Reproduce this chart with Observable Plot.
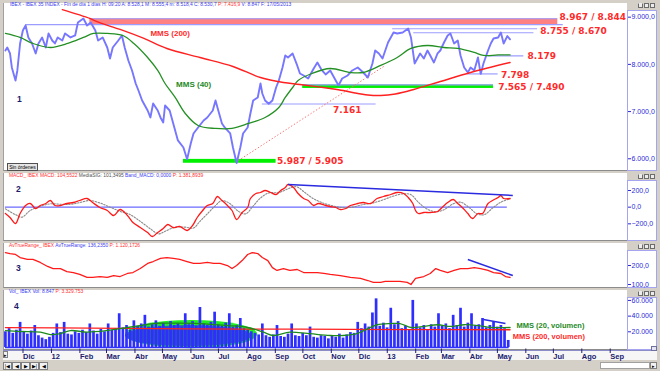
<!DOCTYPE html>
<html><head><meta charset="utf-8">
<script src="https://cdn.jsdelivr.net/npm/d3@7"></script>
<script src="https://cdn.jsdelivr.net/npm/@observablehq/plot@0.6"></script>
<style>
html,body{margin:0;padding:0;background:#d4d0c8;}
#root{position:relative;width:660px;height:371px;overflow:hidden;background:#d4d0c8;font-family:"Liberation Sans",Arial,sans-serif;}
.bx{position:absolute;box-sizing:border-box;}
.white{background:#fff;border-bottom:1px solid #8c8c8c;border-left:1px solid #a0a0a0;}
.ax{background:#fff;border:1px solid #a4a4f0;}
.hdr{position:absolute;font-size:4.9px;line-height:6px;white-space:nowrap;}
.num{position:absolute;font-size:8.5px;font-weight:bold;color:#1c1c6c;line-height:9px;}
.ico{position:absolute;width:5px;height:5px;box-sizing:border-box;border:1px solid #6c6c6c;background:#ececec;}
.btn{position:absolute;box-sizing:border-box;border:1px solid #808080;background:#f2f2f2;font-size:5px;line-height:6px;text-align:center;color:#000;}
</style></head>
<body><div id="root"></div>
<script>
// ---------- DATA ----------
const price = [["2011-11-14",8294],["2011-11-16",8358],["2011-11-19",8231],["2011-11-21",7934],["2011-11-25",7659],["2011-11-27",7871],["2011-11-30",8443],["2011-12-03",8718],["2011-12-06",8824],["2011-12-09",8570],["2011-12-13",8443],["2011-12-17",8231],["2011-12-20",8443],["2011-12-24",8570],["2011-12-28",8358],["2011-12-31",8655],["2012-01-04",8506],["2012-01-07",8443],["2012-01-10",8570],["2012-01-15",8506],["2012-01-18",8655],["2012-01-24",8570],["2012-01-29",8612],["2012-02-01",8888],["2012-02-07",8973],["2012-02-11",8824],["2012-02-15",8888],["2012-02-20",8718],["2012-02-23",8506],["2012-02-28",8570],["2012-03-04",8358],["2012-03-07",8125],["2012-03-10",8358],["2012-03-16",8506],["2012-03-20",8612],["2012-03-23",8358],["2012-03-27",8083],["2012-03-31",7871],["2012-04-04",7595],["2012-04-07",7447],["2012-04-11",7235],["2012-04-17",7023],["2012-04-20",6875],["2012-04-23",7171],["2012-04-28",7023],["2012-05-01",6875],["2012-05-04",6769],["2012-05-06",7129],["2012-05-11",7023],["2012-05-17",6600],["2012-05-20",6388],["2012-05-26",6239],["2012-05-30",5990],["2012-06-03",6324],["2012-06-06",6536],["2012-06-11",6663],["2012-06-17",6811],["2012-06-21",6875],["2012-06-27",7023],["2012-06-30",7235],["2012-07-03",7023],["2012-07-07",6748],["2012-07-10",6663],["2012-07-16",6536],["2012-07-19",6239],["2012-07-23",5910],["2012-07-27",6239],["2012-07-30",6536],["2012-08-04",6663],["2012-08-07",6960],["2012-08-10",7235],["2012-08-15",7299],["2012-08-18",7595],["2012-08-20",7383],["2012-08-23",7235],["2012-08-27",7165],["2012-08-31",7235],["2012-09-04",7510],["2012-09-07",7659],["2012-09-11",7934],["2012-09-14",8189],["2012-09-17",8146],["2012-09-22",8231],["2012-09-27",7977],["2012-09-30",7807],["2012-10-04",7765],["2012-10-09",7701],["2012-10-15",7913],["2012-10-19",8040],["2012-10-24",7871],["2012-10-28",7786],["2012-11-02",7871],["2012-11-08",7659],["2012-11-11",7553],["2012-11-15",7701],["2012-11-21",7765],["2012-11-26",7871],["2012-12-02",7934],["2012-12-08",7828],["2012-12-13",7722],["2012-12-18",8019],["2012-12-21",8294],["2012-12-25",8231],["2012-12-29",8125],["2013-01-01",8294],["2013-01-04",8464],["2013-01-10",8676],["2013-01-14",8655],["2013-01-20",8676],["2013-01-23",8718],["2013-01-26",8761],["2013-01-29",8570],["2013-01-31",8294],["2013-02-02",8019],["2013-02-05",8125],["2013-02-08",8231],["2013-02-12",8125],["2013-02-16",8294],["2013-02-19",8189],["2013-02-23",8040],["2013-02-27",8231],["2013-03-02",8294],["2013-03-06",8464],["2013-03-10",8612],["2013-03-13",8655],["2013-03-17",8443],["2013-03-21",8506],["2013-03-24",8189],["2013-03-28",7934],["2013-04-01",7828],["2013-04-04",7934],["2013-04-08",7871],["2013-04-12",8146],["2013-04-15",7798],["2013-04-18",8019],["2013-04-23",8294],["2013-04-26",8443],["2013-04-29",8549],["2013-05-04",8570],["2013-05-07",8676],["2013-05-10",8443],["2013-05-14",8600],["2013-05-17",8531]];

const mms40 = [["2011-11-14",8655],["2011-11-30",8570],["2011-12-14",8443],["2012-01-02",8358],["2012-01-21",8443],["2012-02-07",8570],["2012-02-18",8655],["2012-03-04",8655],["2012-03-21",8612],["2012-04-02",8443],["2012-04-17",8146],["2012-04-28",7871],["2012-05-06",7595],["2012-05-17",7299],["2012-05-28",6960],["2012-06-11",6705],["2012-06-30",6642],["2012-07-18",6642],["2012-08-05",6748],["2012-08-23",6875],["2012-09-07",7087],["2012-09-14",7299],["2012-09-22",7510],["2012-09-28",7659],["2012-10-13",7807],["2012-11-02",7913],["2012-11-24",7828],["2012-12-08",7828],["2012-12-27",7977],["2013-01-14",8146],["2013-01-29",8337],["2013-02-16",8400],["2013-03-06",8358],["2013-03-21",8337],["2013-04-08",8252],["2013-04-18",8189],["2013-05-04",8200],["2013-05-17",8200]];

const mms200 = [["2012-01-15",9160],["2012-02-14",8973],["2012-02-24",8888],["2012-03-18",8740],["2012-04-13",8549],["2012-05-08",8337],["2012-06-13",8146],["2012-07-19",7955],["2012-08-18",7722],["2012-09-12",7616],["2012-09-30",7574],["2012-11-02",7489],["2012-11-16",7447],["2012-11-29",7394],["2012-12-13",7352],["2012-12-27",7341],["2013-01-12",7373],["2013-02-01",7468],["2013-03-02",7637],["2013-04-04",7828],["2013-05-17",8040]];

const resistanceBand = [{from:"2012-02-14", to:"2013-07-08", lo:8844, hi:8967}];
const supportBands = [{from:"2012-10-03", to:"2013-04-29", lo:7490, hi:7565},{from:"2012-05-26", to:"2012-09-04", lo:5905, hi:5987}];
const levelLines = [
  {v:8967, from:"2012-02-14", to:"2013-07-08"},
  {v:8844, from:"2011-12-06", to:"2013-07-14"},
  {v:8755, from:"2013-01-09", to:"2013-06-16"},
  {v:8670, from:"2013-02-01", to:"2013-06-12"},
  {v:8179, from:"2013-04-23", to:"2013-06-01"},
  {v:7798, from:"2013-04-01", to:"2013-05-04"},
  {v:7565, from:"2012-10-03", to:"2013-04-29"},
  {v:7161, from:"2012-08-20", to:"2012-12-22"}
];
const priceTrend = [{d1:"2012-07-25", v1:5964, d2:"2013-01-01", v2:7977}];
const levelLabels = [
  {d:"2013-07-10", v:9000, t:"8.967 / 8.844"},
  {d:"2013-06-19", v:8712, t:"8.755 / 8.670"},
  {d:"2013-06-05", v:8179, t:"8.179"},
  {d:"2013-05-07", v:7770, t:"7.798"},
  {d:"2013-05-04", v:7527, t:"7.565 / 7.490"},
  {d:"2012-11-05", v:7023, t:"7.161"},
  {d:"2012-09-05", v:5950, t:"5.987 / 5.905"}
];
const maLabels = [{d:"2012-04-20", v:8655, t:"MMS (200)"}, {d:"2012-05-18", v:7574, t:"MMS (40)"}];

const macd = [["2011-11-14",-76],["2011-11-19",-124],["2011-11-25",-196],["2011-11-30",-76],["2011-12-06",20],["2011-12-11",44],["2011-12-17",-16],["2011-12-22",20],["2011-12-28",44],["2012-01-02",80],["2012-01-07",20],["2012-01-13",20],["2012-01-20",44],["2012-01-27",56],["2012-02-03",80],["2012-02-11",104],["2012-02-17",56],["2012-02-25",-4],["2012-03-04",-40],["2012-03-11",-100],["2012-03-18",-28],["2012-03-26",-100],["2012-04-01",-184],["2012-04-09",-244],["2012-04-17",-304],["2012-04-22",-352],["2012-04-28",-304],["2012-05-04",-256],["2012-05-09",-208],["2012-05-15",-244],["2012-05-22",-232],["2012-05-30",-280],["2012-06-05",-220],["2012-06-10",-124],["2012-06-16",-40],["2012-06-21",20],["2012-06-27",44],["2012-07-02",128],["2012-07-07",80],["2012-07-13",20],["2012-07-18",-40],["2012-07-23",-148],["2012-07-29",-64],["2012-08-04",-4],["2012-08-07",104],["2012-08-13",164],["2012-08-18",176],["2012-08-23",200],["2012-08-29",176],["2012-09-04",152],["2012-09-09",200],["2012-09-14",236],["2012-09-17",272],["2012-09-23",236],["2012-09-28",164],["2012-10-04",104],["2012-10-09",80],["2012-10-15",20],["2012-10-20",44],["2012-10-28",20],["2012-11-02",8],["2012-11-08",-4],["2012-11-13",-28],["2012-11-19",-16],["2012-11-24",20],["2012-12-02",44],["2012-12-08",56],["2012-12-16",44],["2012-12-23",104],["2012-12-30",128],["2013-01-07",152],["2013-01-14",176],["2013-01-21",164],["2013-01-26",116],["2013-01-31",44],["2013-02-03",-40],["2013-02-06",-76],["2013-02-12",-64],["2013-02-19",-64],["2013-02-27",-52],["2013-03-05",8],["2013-03-10",56],["2013-03-16",92],["2013-03-21",44],["2013-03-27",-16],["2013-04-01",-76],["2013-04-06",-136],["2013-04-12",-76],["2013-04-17",-76],["2013-04-23",44],["2013-04-28",80],["2013-05-04",116],["2013-05-07",140],["2013-05-10",104],["2013-05-17",104]];

const macdSignal = [["2011-11-14",-20],["2011-11-25",-90],["2011-12-02",-120],["2011-12-11",-40],["2011-12-22",10],["2012-01-02",40],["2012-01-13",35],["2012-01-24",35],["2012-02-03",55],["2012-02-14",80],["2012-02-25",50],["2012-03-07",0],["2012-03-18",-50],["2012-03-29",-90],["2012-04-09",-170],["2012-04-20",-260],["2012-04-29",-320],["2012-05-06",-290],["2012-05-17",-240],["2012-05-28",-240],["2012-06-06",-250],["2012-06-13",-170],["2012-06-22",-70],["2012-06-30",20],["2012-07-07",80],["2012-07-16",40],["2012-07-25",-50],["2012-08-02",-80],["2012-08-09",0],["2012-08-18",110],["2012-08-27",170],["2012-09-07",175],["2012-09-17",220],["2012-09-26",245],["2012-10-06",170],["2012-10-15",100],["2012-10-25",50],["2012-11-05",15],["2012-11-15",-5],["2012-11-26",0],["2012-12-07",30],["2012-12-18",50],["2012-12-29",85],["2013-01-09",130],["2013-01-20",160],["2013-01-29",150],["2013-02-06",60],["2013-02-15",-20],["2013-02-25",-55],["2013-03-06",-30],["2013-03-16",40],["2013-03-24",60],["2013-04-02",0],["2013-04-11",-80],["2013-04-19",-90],["2013-04-28",-10],["2013-05-07",60],["2013-05-17",101]];
const macdZero = [{v:0, from:"2011-11-14", to:"2013-05-14"}];
const macdTrend = [{d1:"2012-09-17", v1:272, d2:"2013-05-20", v2:140}];

const atr = [["2011-11-14",268],["2011-11-19",263],["2011-11-25",258],["2011-11-30",242],["2011-12-08",232],["2011-12-14",232],["2011-12-22",216],["2011-12-30",195],["2012-01-05",184],["2012-01-13",184],["2012-01-20",168],["2012-01-27",163],["2012-02-03",153],["2012-02-11",137],["2012-02-17",137],["2012-02-25",142],["2012-03-04",137],["2012-03-11",147],["2012-03-18",142],["2012-03-26",158],["2012-04-01",163],["2012-04-09",184],["2012-04-17",211],["2012-04-23",221],["2012-05-01",237],["2012-05-08",242],["2012-05-15",237],["2012-05-22",232],["2012-05-30",221],["2012-06-06",211],["2012-06-13",211],["2012-06-21",216],["2012-06-28",211],["2012-07-05",211],["2012-07-13",200],["2012-07-18",184],["2012-07-23",200],["2012-07-29",226],["2012-08-04",258],["2012-08-09",268],["2012-08-15",263],["2012-08-20",242],["2012-08-26",226],["2012-08-31",189],["2012-09-05",174],["2012-09-12",184],["2012-09-19",174],["2012-09-27",179],["2012-10-04",163],["2012-10-11",163],["2012-10-19",163],["2012-10-26",158],["2012-11-02",153],["2012-11-13",147],["2012-11-24",137],["2012-12-05",132],["2012-12-13",121],["2012-12-19",111],["2012-12-27",111],["2013-01-01",116],["2013-01-10",116],["2013-01-17",116],["2013-01-25",111],["2013-01-29",100],["2013-02-03",132],["2013-02-12",142],["2013-02-19",158],["2013-02-25",184],["2013-03-02",174],["2013-03-10",163],["2013-03-17",174],["2013-03-24",184],["2013-04-01",184],["2013-04-08",189],["2013-04-15",184],["2013-04-23",174],["2013-04-29",163],["2013-05-07",158],["2013-05-12",142],["2013-05-17",137]];
const atrTrend = [{d1:"2013-04-01", v1:232, d2:"2013-05-20", v2:147}];

// volume in thousands, one bar every volStepDays from volStart
const volStart = "2011-11-14";
const volStepDays = 4;
const volume = [20,24,18,22,32,20,17,21,28,15,12,10,13,18,30,19,32,17,16,20,18,22,19,30,21,17,23,20,30,22,24,43,25,28,22,34,27,30,41,26,29,34,27,31,25,33,28,30,26,43,29,33,27,51,30,28,32,45,29,27,31,43,26,28,37,24,22,20,18,16,30,15,13,16,28,14,13,17,30,15,14,18,15,26,13,12,15,14,11,15,13,17,12,16,19,18,32,24,30,26,44,62,27,31,25,50,29,33,24,27,22,60,30,25,28,23,29,26,43,27,30,24,41,28,50,26,31,43,27,29,37,25,28,32,26,28,24,9];
const volMa20 = [["2011-11-14",21.6],["2011-11-30",20.4],["2011-12-22",19.6],["2012-01-02",16.5],["2012-01-13",17.8],["2012-01-24",21.6],["2012-02-11",19.6],["2012-03-04",21.6],["2012-03-26",25.5],["2012-04-09",28],["2012-04-23",30.5],["2012-05-15",31],["2012-06-13",30.5],["2012-07-13",28],["2012-08-04",25.5],["2012-08-21",19.6],["2012-09-01",15.3],["2012-09-19",19.6],["2012-10-08",18],["2012-11-02",15.3],["2012-11-16",15.3],["2012-12-02",18],["2012-12-13",24],["2012-12-23",29],["2013-01-07",30.5],["2013-01-17",30.5],["2013-01-29",25.5],["2013-02-12",26.8],["2013-02-27",29],["2013-03-13",26.8],["2013-03-28",29],["2013-04-12",28],["2013-04-26",25.5],["2013-05-17",25.5]];
const volMa200 = [["2011-11-14",25.4],["2012-02-15",24.6],["2012-06-01",23.8],["2012-10-01",23.3],["2013-01-15",22.8],["2013-05-17",22.6]];
const volZero = [{v:0, from:"2011-11-14", to:"2013-05-16"}];
const volTrend = [{d1:"2013-04-18", v1:35.7, d2:"2013-05-12", v2:30.6}];
const volHalo = [{center:"2012-06-04", days:72, v:16.5, dv:18}];
const volCore = [{center:"2012-06-01", days:69, v:14.5, dv:13.4}];
const volLabels = [{d:"2013-05-24", v:28, t:"MMS (20, volumen)"}, {d:"2013-05-20", v:14, t:"MMS (200, volumen)"}];

const monthTicks = ["2011-12-01","2012-01-01","2012-02-01","2012-03-01","2012-04-01","2012-05-01","2012-06-01","2012-07-01","2012-08-01","2012-09-01","2012-10-01","2012-11-01","2012-12-01","2013-01-01","2013-02-01","2013-03-01","2013-04-01","2013-05-01","2013-06-01","2013-07-01","2013-08-01","2013-09-01"];
const monthLabels = ["Dic","12","Feb","Mar","Abr","May","Jun","Jul","Ago","Sep","Oct","Nov","Dic","13","Feb","Mar","Abr","May","Jun","Jul","Ago","Sep"];

const priceTicks = [6000,7000,8000,9000];
const macdTicks = [-200,0,200];
const atrTicks = [100,200];
const volTicks = [20,40,60];

// ---------- HELPERS ----------
const D = s => new Date(s);
const pairs = a => a.map(([d,v]) => ({date: D(d), v}));
const loc = d3.formatLocale({decimal:",", thousands:".", grouping:[3], currency:["",""]});
const f1 = loc.format(",.1f"), f0 = loc.format(",.0f");
const NS = "http://www.w3.org/2000/svg";
const root = document.getElementById("root");
const st = {background:"transparent", overflow:"visible", fontFamily:'"Liberation Sans", Arial, sans-serif'};
const xs = () => ({type:"utc", domain:[D("2011-11-13"), D("2013-09-22")], axis:null});
const W = 660, ML = 4, MR = 33;
const AXC = "#2a2ad8";
const LAV = "#9c9cff";

function box(x,y,w,h,cls,style){const d=document.createElement("div");d.className="bx "+(cls||"");Object.assign(d.style,{left:x+"px",top:y+"px",width:w+"px",height:h+"px"},style||{});root.appendChild(d);return d;}
function place(svg, top){svg.style.position="absolute";svg.style.left="0px";svg.style.top=top+"px";root.appendChild(svg);}
function icons(y){[638,644,650].forEach((x,i)=>{const d=document.createElement("div");d.className="ico";d.style.left=x+"px";d.style.top=y+"px";if(i===0){d.style.borderTopColor="#ececec";}root.appendChild(d);});}
function hdr(x,y,parts){const d=document.createElement("div");d.className="hdr";d.style.left=x+"px";d.style.top=y+"px";d.innerHTML=parts.map(([t,c])=>`<span style="color:${c}">${t}</span>`).join("");root.appendChild(d);}
function num(x,y,t){const d=document.createElement("div");d.className="num";d.style.left=x+"px";d.style.top=y+"px";d.textContent=t;root.appendChild(d);}
function ellipses(data, fill){
  return (index, scales) => {
    const g = document.createElementNS(NS,"g");
    for (const e of data){
      const c = D(e.center);
      const cx = scales.x(c), rx = scales.x(d3.utcDay.offset(c, e.days)) - cx;
      const cy = scales.y(e.v), ry = scales.y(e.v - e.dv) - cy;
      const el = document.createElementNS(NS,"ellipse");
      el.setAttribute("cx",cx);el.setAttribute("cy",cy);el.setAttribute("rx",rx);el.setAttribute("ry",ry);el.setAttribute("fill",fill);
      g.appendChild(el);
    }
    return g;
  };
}
const rangeRule = (data, stroke, w=1) => Plot.ruleY(data, {y:"v", x1:d=>D(d.from), x2:d=>D(d.to), stroke, strokeWidth:w});
const trend = (data, stroke, w, dash) => Plot.link(data, {x1:d=>D(d.d1), y1:"v1", x2:d=>D(d.d2), y2:"v2", stroke, strokeWidth:w, strokeDasharray:dash});

// ---------- CHROME ----------
box(3,3,624,168,"white"); box(627,10,30,161,"ax"); icons(3);
box(3,173,624,68,"white"); box(627,180,30,61,"ax"); icons(174);
box(3,243,624,45,"white"); box(627,250,30,38,"ax"); icons(244);
box(3,290,624,60,"white"); box(627,297,30,53,"ax"); icons(291);
box(3,350,654,10,"",{background:"#f6f6f6",borderTop:"1px solid #8c8cc8"});
box(651,346,6,5,"",{border:"1px solid #7070a0",background:"#e4e4f4"});
box(3,351,5,7,"btn").textContent="▸";
["|◀","◀","▶","▶|","◀"].forEach((t,i)=>{const b=box(3+i*9,362,9,8,"btn");b.textContent=t;});
box(600,362,50,7,"",{background:"#fff",border:"1px solid #a0a0a0"});
const sb = box(650,362,7,7,"btn"); sb.textContent="▸";
const so = box(7,163,31,8,"btn",{fontSize:"5px",lineHeight:"6px",background:"#e6e6e6",border:"1px solid #505050"}); so.textContent="Sin órdenes";

// ---------- PANEL 1: PRICE ----------
const p1 = Plot.plot({
  width:W, height:171, marginLeft:ML, marginRight:MR, marginTop:8, marginBottom:4,
  x: xs(), y: {domain:[5815,9184], axis:null}, style: st,
  marks: [
    Plot.rect(resistanceBand, {x1:d=>D(d.from), x2:d=>D(d.to), y1:"lo", y2:"hi", fill:"#ff8080"}),
    Plot.rect(supportBands, {x1:d=>D(d.from), x2:d=>D(d.to), y1:"lo", y2:"hi", fill:"#00f000"}),
    rangeRule(levelLines, LAV, 1.2),
    trend(priceTrend, "#ff6a6a", 1, "1.3 2"),
    Plot.line(pairs(price), {x:"date", y:"v", stroke:"#7676ff", strokeWidth:1.9}),
    Plot.line(pairs(mms40), {x:"date", y:"v", stroke:"#249024", strokeWidth:1.3, curve:"catmull-rom"}),
    Plot.line(pairs(mms200), {x:"date", y:"v", stroke:"#ff2020", strokeWidth:1.4, curve:"catmull-rom"}),
    Plot.text(levelLabels, {x:d=>D(d.d), y:"v", text:"t", textAnchor:"start", fill:"#ff2a2a", fontWeight:"bold", fontSize:9, fontFamily:"DejaVu Sans"}),
    Plot.text(maLabels.slice(0,1), {x:d=>D(d.d), y:"v", text:"t", textAnchor:"start", fill:"#ff2a2a", fontWeight:"bold", fontSize:8}),
    Plot.text(maLabels.slice(1), {x:d=>D(d.d), y:"v", text:"t", textAnchor:"start", fill:"#1e8a1e", fontWeight:"bold", fontSize:8}),
    Plot.axisY({anchor:"right", ticks:priceTicks, tickFormat:f1, tickSize:3, tickPadding:1, fontSize:7, color:AXC})
  ]
});
place(p1, 0);

// ---------- PANEL 2: MACD ----------
const p2 = Plot.plot({
  width:W, height:68, marginLeft:ML, marginRight:MR, marginTop:6, marginBottom:2,
  x: xs(), y: {domain:[-388,332], axis:null}, style: st,
  marks: [
    rangeRule(macdZero, "#6a6aff", 1.2),
    Plot.line(pairs(macdSignal), {x:"date", y:"v", stroke:"#8a8a8a", strokeWidth:1.1, strokeDasharray:"1.5 1.5", curve:"catmull-rom"}),
    Plot.line(pairs(macd), {x:"date", y:"v", stroke:"#ff1a1a", strokeWidth:1.3, curve:"catmull-rom"}),
    trend(macdTrend, "#2a2ae0", 1.5),
    Plot.axisY({anchor:"right", ticks:macdTicks, tickFormat:f1, tickSize:3, tickPadding:1, fontSize:7, color:AXC})
  ]
});
place(p2, 173);

// ---------- PANEL 3: ATR ----------
const p3 = Plot.plot({
  width:W, height:45, marginLeft:ML, marginRight:MR, marginTop:5, marginBottom:1,
  x: xs(), y: {domain:[84.2,289.5], axis:null}, style: st,
  marks: [
    Plot.line(pairs(atr), {x:"date", y:"v", stroke:"#ff1a1a", strokeWidth:1.3}),
    trend(atrTrend, "#2a2ae0", 1.5),
    Plot.axisY({anchor:"right", ticks:atrTicks, tickFormat:f1, tickSize:3, tickPadding:1, fontSize:7, color:AXC})
  ]
});
place(p3, 243);

// ---------- PANEL 4: VOLUME ----------
const volData = volume.map((v,i) => ({date: d3.utcDay.offset(D(volStart), i*volStepDays), v}));
const p4 = Plot.plot({
  width:W, height:60, marginLeft:ML, marginRight:MR, marginTop:6, marginBottom:3,
  x: xs(), y: {domain:[0,65], axis:null}, style: st,
  marks: [
    ellipses(volHalo, "#22ee22"),
    ellipses(volCore, "#2a64aa"),
    Plot.ruleX(volData, {x:"date", y1:0, y2:"v", stroke:"#2e2eff", strokeWidth:2.7}),
    rangeRule(volZero, "#3030ff", 1.5),
    Plot.line(pairs(volMa200), {x:"date", y:"v", stroke:"#ff2020", strokeWidth:1.3, curve:"catmull-rom"}),
    Plot.line(pairs(volMa20), {x:"date", y:"v", stroke:"#1e8a1e", strokeWidth:1.3, curve:"catmull-rom"}),
    trend(volTrend, "#2a2ae0", 1.5),
    Plot.text(volLabels.slice(0,1), {x:d=>D(d.d), y:"v", text:"t", textAnchor:"start", fill:"#1e8a1e", fontWeight:"bold", fontSize:7.5}),
    Plot.text(volLabels.slice(1), {x:d=>D(d.d), y:"v", text:"t", textAnchor:"start", fill:"#ff2a2a", fontWeight:"bold", fontSize:7.5}),
    Plot.axisY({anchor:"right", ticks:volTicks, tickFormat:d=>f0(d*1000), tickSize:3, tickPadding:1, fontSize:7, color:AXC})
  ]
});
place(p4, 290);

// ---------- X AXIS ----------
const labelFor = new Map(monthTicks.map((d,i)=>[+D(d), monthLabels[i]]));
const p5 = Plot.plot({
  width:W, height:12, marginLeft:ML, marginRight:MR, marginTop:0, marginBottom:10,
  x: xs(), y:{domain:[0,1], axis:null}, style: st,
  marks: [
    Plot.axisX({anchor:"bottom", ticks:monthTicks.map(D), tickFormat:d=>labelFor.get(+d), tickSize:4.5, tickPadding:0, textAnchor:"start", dx:2, dy:-2.5, fontSize:7.5, fontWeight:"bold", color:"#20206e"})
  ]
});
place(p5, 349);

// ---------- HEADERS & PANEL NUMBERS ----------
const B = "#3c3cf0", R = "#ff3030", G = "#505050";
hdr(10,2,[["IBEX - IBEX 35 INDEX - Fin de día 1 días H: 09:20 A: 8.528,1 M: 8.555,4 m: 8.518,4 C: 8.530,7 ",B],["P: 7.416,9",R],[" V: 8.847 F: 17/05/2013",B]]);
hdr(9,173,[["MACD_ IBEX MACD: 104,5522",R],[" MediaSIG: 101,3495",G],[" Band_MACD: 0,0000",B],[" P: 1.381,8939",R]]);
hdr(9,242.5,[["AvTrueRange_ IBEX ",R],["AvTrueRange: 136,2350",B],[" P: 1.120,1726",R]]);
hdr(9,289,[["Vol_ IBEX Vol: 8.847",B],[" P: 3.329.753",R]]);
num(17,95,"1"); num(16,185,"2"); num(16,264,"3"); num(14,302,"4");
</script></body></html>
